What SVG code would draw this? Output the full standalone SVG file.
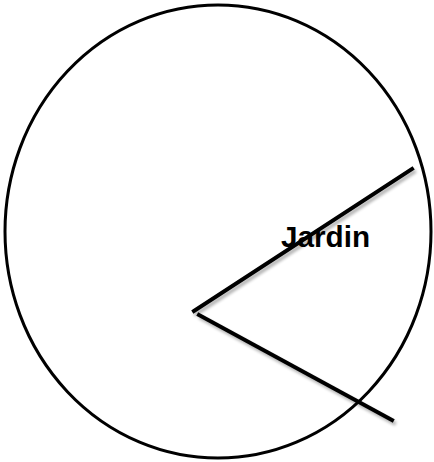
<svg xmlns="http://www.w3.org/2000/svg" width="434" height="462" viewBox="0 0 434 462">
<style>
.ln{stroke:#000;stroke-width:4;fill:none;stroke-linecap:square}
.lbl{font-family:"Liberation Sans",Arial,sans-serif;font-weight:bold;font-size:29px;fill:#000}
</style>
<defs>
<filter id="sh" x="-10%" y="-10%" width="120%" height="130%">
<feGaussianBlur in="SourceAlpha" stdDeviation="1.5"/>
<feOffset dx="2" dy="3" result="b"/>
<feComponentTransfer><feFuncA type="linear" slope="0.3"/></feComponentTransfer>
<feMerge><feMergeNode/><feMergeNode in="SourceGraphic"/></feMerge>
</filter>
</defs>
<rect width="434" height="462" fill="#fff"/>
<g id="circle">
<ellipse cx="218" cy="231.5" rx="213" ry="226.5" fill="none" stroke="#000" stroke-width="3"/>
</g>
<g id="connectors" filter="url(#sh)">
<line class="ln" x1="194" y1="311" x2="412" y2="169"/>
<line class="ln" x1="199" y1="315" x2="392" y2="420"/>
</g>
<g id="label">
<text class="lbl" x="281" y="247" textLength="89" lengthAdjust="spacingAndGlyphs">Jardin</text>
</g>
</svg>
